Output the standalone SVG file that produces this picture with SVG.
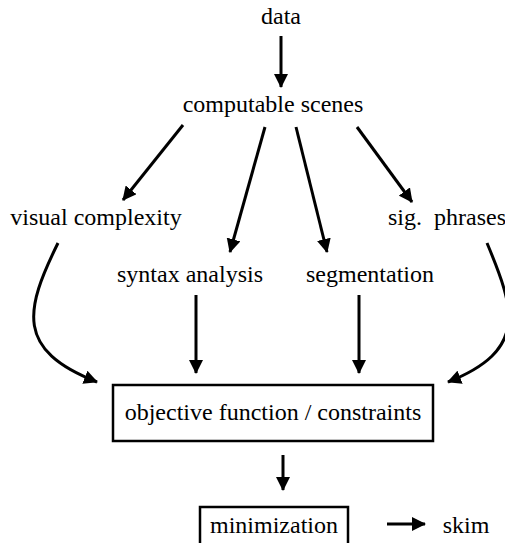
<svg xmlns="http://www.w3.org/2000/svg" width="505" height="543" viewBox="0 0 505 543">
<style>
.c{fill:none;stroke:#000;stroke-width:3}
.b{fill:#fff;stroke:#000;stroke-width:2.5}
</style>
<defs>
<marker id="a" markerUnits="userSpaceOnUse" markerWidth="14" markerHeight="14" viewBox="0 0 14 14" refX="13" refY="7" orient="auto">
<path d="M0,0 L14,7 L0,14 Z" fill="#000"/>
</marker>
</defs>
<rect width="505" height="543" fill="#fff"/>
<g id="connectors">
<line class="c" x1="281" y1="36" x2="281" y2="87" marker-end="url(#a)"/>
<line class="c" x1="183" y1="125" x2="123" y2="200" marker-end="url(#a)"/>
<line class="c" x1="265" y1="127" x2="230" y2="252" marker-end="url(#a)"/>
<line class="c" x1="296" y1="127" x2="327" y2="252" marker-end="url(#a)"/>
<line class="c" x1="357" y1="127" x2="412" y2="202" marker-end="url(#a)"/>
<path class="c" d="M58,243 C25,310 15,350 97,382" marker-end="url(#a)"/>
<path class="c" d="M487,243 C515,310 528,350 448,382" marker-end="url(#a)"/>
<line class="c" x1="196" y1="295" x2="196" y2="373" marker-end="url(#a)"/>
<line class="c" x1="359" y1="295" x2="359" y2="373" marker-end="url(#a)"/>
<line class="c" x1="283" y1="455" x2="283" y2="490" marker-end="url(#a)"/>
<line class="c" x1="387" y1="524" x2="425" y2="524" marker-end="url(#a)"/>
</g>
<g font-family="Liberation Serif, serif" font-size="24" text-anchor="middle" fill="#000">
<g id="data"><text x="281" y="24">data</text></g>
<g id="scenes"><text x="273" y="112">computable scenes</text></g>
<g id="visual"><text x="96" y="225">visual complexity</text></g>
<g id="sig"><text x="447" y="225" xml:space="preserve">sig.  phrases</text></g>
<g id="syntax"><text x="190" y="282">syntax analysis</text></g>
<g id="segmentation"><text x="370" y="282">segmentation</text></g>
<g id="objective"><rect class="b" x="113" y="385" width="320" height="56"/><text x="273" y="420">objective function / constraints</text></g>
<g id="minimization"><rect class="b" x="200" y="507" width="148" height="45"/><text x="274" y="533">minimization</text></g>
<g id="skim"><text x="466" y="533">skim</text></g>
</g>
</svg>
